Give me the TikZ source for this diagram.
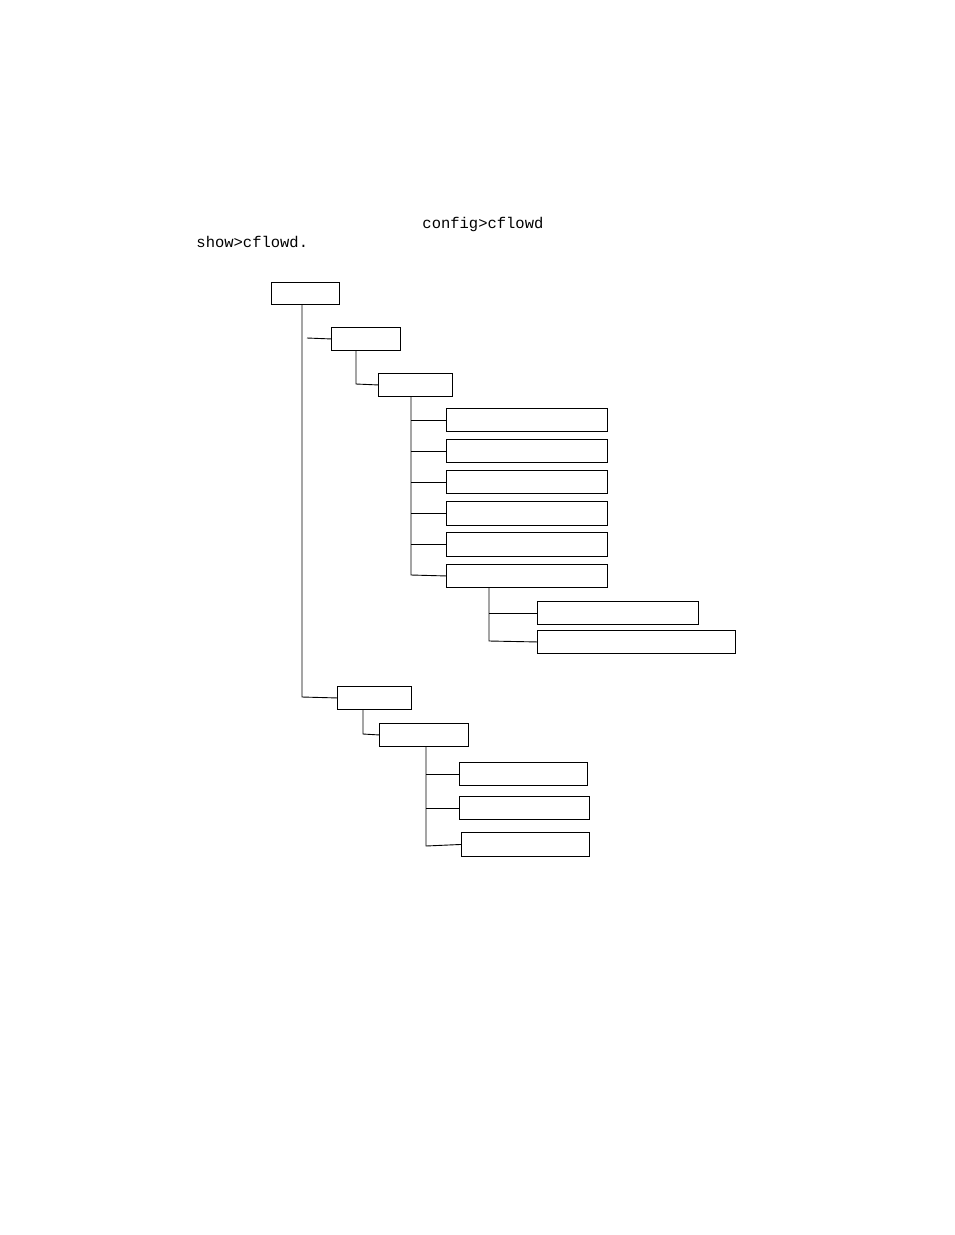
\documentclass[tikz,border=0pt]{standalone}
\usepackage{fontspec}
\newfontfamily\mono{Liberation Mono}
\begin{document}
\begin{tikzpicture}[x=1pt,y=-1pt,line width=0.9pt,
  box/.style={draw,rectangle,inner sep=0pt,anchor=north west},
  lbl/.style={font=\mono\fontsize{15.5}{18}\selectfont,inner sep=0pt,anchor=base west}]
\useasboundingbox (0,0) rectangle (954,1235);
\newcommand{\bx}[5]{\node[box,minimum width={#4-#2},minimum height={#5-#3}] (#1) at (#2,#3) {};}
\node[lbl] (t1) at (422,228) {config>cflowd};
\node[lbl] (t2) at (196,247) {show>cflowd.};
\bx{A}{271}{282}{339}{304}
\bx{B}{331}{327}{400}{350}
\bx{C}{378}{373}{452}{396}
\bx{D1}{446}{408}{607}{431}
\bx{D2}{446}{439}{607}{462}
\bx{D3}{446}{470}{607}{493}
\bx{D4}{446}{501}{607}{525}
\bx{D5}{446}{532}{607}{556}
\bx{D6}{446}{564}{607}{587}
\bx{E1}{537}{601}{698}{624}
\bx{E2}{537}{630}{735}{653}
\bx{F}{337}{686}{411}{709}
\bx{G}{379}{723}{468}{746}
\bx{H1}{459}{762}{587}{785}
\bx{H2}{459}{796}{589}{819}
\bx{H3}{461}{832}{589}{856}
\coordinate (bfree) at (307,338);
\draw (A.south -| 302,0) -- (302,697) -- (F.west);
\draw (bfree) -- (B.west);
\draw (B.south -| 356,0) -- (356,384) -- (C.west);
\draw (C.south -| 411,0) -- (411,575) -- (D6.west);
\foreach \d in {D1,D2,D3,D4,D5} \draw (\d.west) -- (\d.west -| 411,0);
\draw (D6.south -| 489,0) -- (489,641) -- (E2.west);
\draw (E1.west) -- (E1.west -| 489,0);
\draw (F.south -| 363,0) -- (363,734) -- (G.west);
\draw (G.south -| 426,0) -- (426,846) -- (H3.west);
\draw (H1.west) -- (H1.west -| 426,0);
\draw (H2.west) -- (H2.west -| 426,0);
\end{tikzpicture}
\end{document}
